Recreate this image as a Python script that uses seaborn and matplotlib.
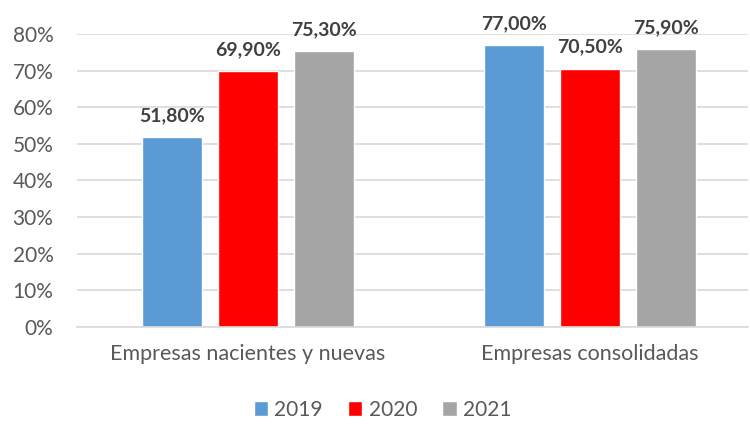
import matplotlib
matplotlib.use("Agg")
import matplotlib.pyplot as plt
import seaborn as sns
import pandas as pd
from matplotlib.patches import Patch

categories = ["Empresas nacientes y nuevas", "Empresas consolidadas"]
years = ["2019", "2020", "2021"]
values_2019 = [0.518, 0.770]
values_2020 = [0.699, 0.705]
values_2021 = [0.753, 0.759]
colors = ["#5B9BD5", "#FF0000", "#A5A5A5"]

rows = []
for y, vals in zip(years, [values_2019, values_2020, values_2021]):
    for c, v in zip(categories, vals):
        rows.append({"cat": c, "year": y, "val": v})
df = pd.DataFrame(rows)

sns.set_theme(style="white")
plt.rcParams["font.family"] = ["Lato", "DejaVu Sans"]

fig = plt.figure(figsize=(7.5, 4.24), dpi=100)
ax = fig.add_axes([0.1027, 0.2288, 0.894, 0.691])

sns.barplot(data=df, x="cat", y="val", hue="year", order=categories, hue_order=years,
            palette=colors, width=0.6667, gap=0.21, saturation=1, ax=ax, legend=False,
            errorbar=None)

ax.set_ylim(0, 0.8)
ax.set_xlim(-0.5, 1.46)
ax.set_yticks([i / 10 for i in range(9)])
ax.set_yticklabels([f"{i*10}%" for i in range(9)])
ax.yaxis.grid(True, color="#D9D9D9", linewidth=1.2)
ax.set_axisbelow(True)
for s in ["top", "right", "left"]:
    ax.spines[s].set_visible(False)
ax.spines["bottom"].set_color("#D9D9D9")
ax.spines["bottom"].set_linewidth(1.2)
ax.tick_params(axis="y", length=0, labelsize=15, labelcolor="#595959", pad=17)
ax.tick_params(axis="x", length=0, labelsize=15.5, labelcolor="#595959", pad=12)
ax.set_xlabel("")
ax.set_ylabel("")

for cont in ax.containers:
    for bar in cont:
        h = bar.get_height()
        ax.text(bar.get_x() + bar.get_width() / 2, h + 0.036,
                f"{h*100:.2f}%".replace(".", ","), ha="center", va="bottom",
                fontsize=14, fontweight="bold", color="#404040", clip_on=False)

handles = [Patch(facecolor=c, label=y) for c, y in zip(colors, years)]
fig.legend(handles=handles, loc="center", bbox_to_anchor=(0.51, 0.034), ncol=3,
           frameon=False, fontsize=15, labelcolor="#595959", handlelength=0.7,
           handleheight=0.7, handletextpad=0.3, columnspacing=1.2)

fig.savefig("out.png", dpi=100)
